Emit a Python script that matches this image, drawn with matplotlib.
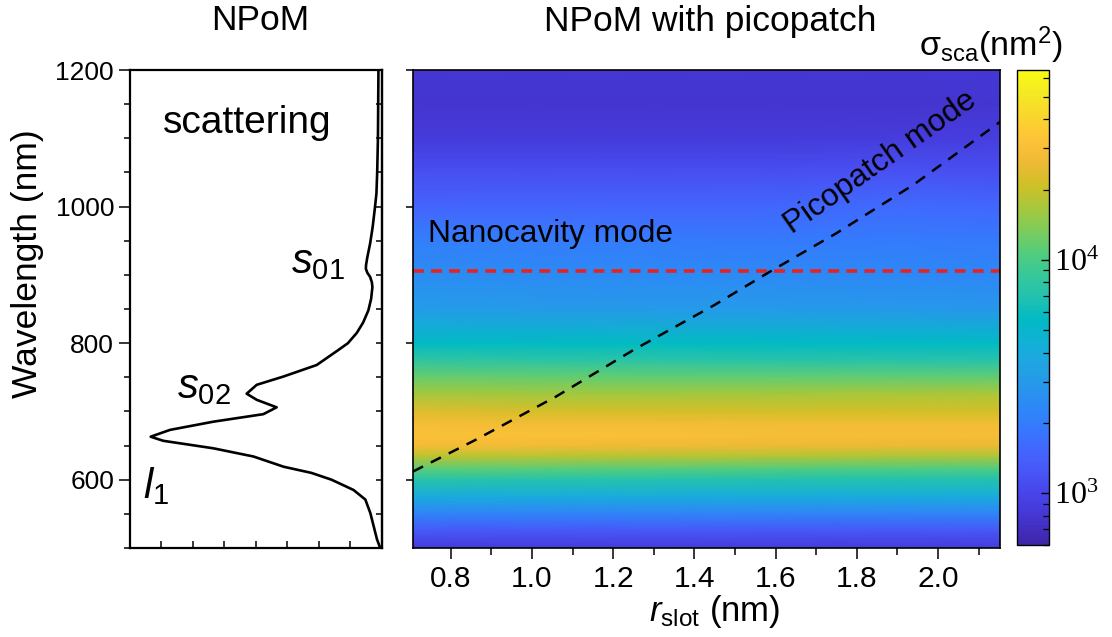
import numpy as np
import matplotlib
matplotlib.use('Agg')
import matplotlib.pyplot as plt
from matplotlib.colors import LogNorm, LinearSegmentedColormap
from matplotlib.ticker import MultipleLocator, FixedLocator, NullFormatter

plt.rcParams['font.family'] = ['Liberation Sans', 'DejaVu Sans']
plt.rcParams['mathtext.fontset'] = 'custom'
plt.rcParams['mathtext.rm'] = 'Liberation Sans'
plt.rcParams['mathtext.it'] = 'Liberation Sans:italic'
plt.rcParams['mathtext.bf'] = 'Liberation Sans:bold'

# Spectre de diffusion du NPoM seul (u.a.)
spec_wl = [1200, 1100, 1050, 1019, 995, 970, 946, 926, 915, 909, 903, 897, 889, 882,
           865, 848, 830, 815, 800, 790, 768, 751, 739, 726, 717, 706, 696,
           685, 673, 663, 657, 646, 634, 619, 610, 600, 585, 571, 551,
           532, 513, 500]
spec_sca = [0.014, 0.016, 0.019, 0.022, 0.029, 0.037, 0.047, 0.058, 0.063, 0.064, 0.058, 0.047, 0.040, 0.038,
            0.043, 0.054, 0.075, 0.100, 0.135, 0.173, 0.259, 0.392, 0.497, 0.537, 0.497, 0.418, 0.471,
            0.669, 0.841, 0.918, 0.868, 0.669, 0.510, 0.390, 0.280, 0.200, 0.113, 0.066, 0.046,
            0.033, 0.020, 0.007]

# Carte log10(sigma_sca) en fonction de r_slot et de la longueur d'onde
r_slot = [0.707, 1.0, 1.3, 1.6, 1.9, 2.153]
map_wl = [500, 525, 550, 575, 600, 615, 635, 650, 665, 680, 700, 725, 750,
          775, 800, 850, 900, 950, 1000, 1050, 1100, 1150, 1200]
log_sca_r071 = [2.93, 3.11, 3.34, 3.60, 3.86, 4.04, 4.28, 4.45, 4.49, 4.47, 4.37, 4.22, 4.08,
                3.90, 3.74, 3.50, 3.40, 3.32, 3.17, 3.05, 2.93, 2.89, 2.91]
log_sca_r100 = [2.93, 3.10, 3.34, 3.60, 3.85, 4.03, 4.27, 4.44, 4.48, 4.46, 4.35, 4.21, 4.07,
                3.89, 3.74, 3.49, 3.39, 3.31, 3.18, 3.05, 2.93, 2.89, 2.91]
log_sca_r130 = [2.93, 3.10, 3.34, 3.60, 3.85, 4.02, 4.26, 4.43, 4.48, 4.46, 4.34, 4.21, 4.06,
                3.88, 3.75, 3.48, 3.38, 3.30, 3.18, 3.05, 2.93, 2.89, 2.91]
log_sca_r160 = [2.93, 3.09, 3.34, 3.60, 3.84, 4.01, 4.25, 4.42, 4.47, 4.45, 4.33, 4.22, 4.06,
                3.87, 3.74, 3.48, 3.38, 3.29, 3.19, 3.05, 2.93, 2.89, 2.91]
log_sca_r190 = [2.93, 3.09, 3.34, 3.60, 3.84, 4.00, 4.24, 4.41, 4.47, 4.45, 4.33, 4.23, 4.06,
                3.86, 3.74, 3.47, 3.37, 3.30, 3.21, 3.07, 2.94, 2.89, 2.91]
log_sca_r215 = [2.93, 3.09, 3.34, 3.60, 3.84, 4.00, 4.24, 4.41, 4.47, 4.45, 4.33, 4.24, 4.06,
                3.86, 3.74, 3.46, 3.36, 3.29, 3.19, 3.05, 2.96, 2.90, 2.91]

# Modes
nanocavity_wl = 906
pico_r = [0.707, 0.86, 1.06, 1.25, 1.45, 1.59, 1.75, 1.94, 2.153]
pico_wl = [612, 658, 722, 790, 856, 906, 961, 1032, 1124]

# Palette type "parula"
parula_rgb = [
    (0.2422, 0.1504, 0.6603), (0.2647, 0.1978, 0.7952), (0.2783, 0.2559, 0.8991),
    (0.2810, 0.3228, 0.9579), (0.2699, 0.3892, 0.9906), (0.2206, 0.4603, 0.9973),
    (0.1786, 0.5289, 0.9682), (0.1540, 0.5902, 0.9218), (0.1248, 0.6459, 0.8883),
    (0.0689, 0.6948, 0.8394), (0.0067, 0.7312, 0.7660), (0.1408, 0.7584, 0.6842),
    (0.2161, 0.7843, 0.5923), (0.3406, 0.8008, 0.4789), (0.5044, 0.7993, 0.3480),
    (0.6720, 0.7793, 0.2227), (0.8203, 0.7498, 0.1535), (0.9393, 0.7288, 0.2100),
    (0.9970, 0.7659, 0.2199), (0.9786, 0.8386, 0.1766), (0.9597, 0.9135, 0.1423),
    (0.9769, 0.9839, 0.0805)]
parula = LinearSegmentedColormap.from_list('parula', parula_rgb)

W, H = 1112, 637
fig = plt.figure(figsize=(W / 100, H / 100), dpi=100)
ax1 = fig.add_axes([0.1169, 0.1397, 0.2266, 0.7504])
ax2 = fig.add_axes([0.3714, 0.1397, 0.5279, 0.7504])
cax = fig.add_axes([0.9146, 0.1444, 0.0288, 0.7457])

# --- panneau gauche : spectre ---
ax1.plot(spec_sca, spec_wl, color='k', lw=1.9)
ax1.set_xlim(1, 0)
ax1.set_ylim(500, 1200)
ax1.yaxis.set_major_locator(MultipleLocator(200))
ax1.yaxis.set_minor_locator(MultipleLocator(50))
ax1.xaxis.set_major_locator(FixedLocator(np.arange(0.125, 1, 0.125)))
ax1.xaxis.set_major_formatter(NullFormatter())
ax1.tick_params(axis='y', which='major', direction='out', length=8, width=1.1, labelsize=19)
ax1.tick_params(axis='y', which='minor', direction='out', length=4, width=1.1)
ax1.tick_params(axis='x', which='major', direction='in', length=5, width=1.1)
sec = ax1.secondary_yaxis('right')
sec.yaxis.set_major_locator(MultipleLocator(50))
sec.tick_params(direction='in', length=4, width=1.1, labelright=False)
for s in ax1.spines.values():
    s.set_linewidth(1.6)
sec.spines['right'].set_linewidth(1.6)

yt = ax1.get_yaxis_transform()
ax1.text(0.465, 1123, 'scattering', transform=yt, ha='center', va='center', fontsize=28)
ax1.text(0.64, 919, r'$s_{01}$', transform=yt, ha='left', va='center', fontsize=30)
ax1.text(0.185, 736, r'$s_{02}$', transform=yt, ha='left', va='center', fontsize=30)
ax1.text(0.05, 590, r'$l_{1}$', transform=yt, ha='left', va='center', fontsize=30)

# --- panneau droit : carte ---
Z = 10 ** np.array([log_sca_r071, log_sca_r100, log_sca_r130,
                    log_sca_r160, log_sca_r190, log_sca_r215]).T
mesh = ax2.pcolormesh(r_slot, map_wl, Z, shading='gouraud', cmap=parula,
                      norm=LogNorm(vmin=600, vmax=6.5e4))
ax2.axhline(nanocavity_wl, color='#e8231f', lw=2.6, dashes=(3, 2))
ax2.plot(pico_r, pico_wl, color='k', lw=1.8, dashes=(4.5, 3.5))
ax2.set_xlim(0.707, 2.153)
ax2.set_ylim(500, 1200)
ax2.xaxis.set_major_locator(MultipleLocator(0.2))
ax2.xaxis.set_minor_locator(MultipleLocator(0.1))
ax2.xaxis.set_major_formatter(lambda v, p: f'{v:.1f}')
ax2.yaxis.set_major_locator(FixedLocator([600, 800, 1000, 1200]))
ax2.yaxis.set_major_formatter(NullFormatter())
ax2.tick_params(axis='x', which='major', direction='out', length=8, width=1.1, labelsize=21.5, pad=4)
ax2.tick_params(axis='x', which='minor', direction='out', length=5, width=1.1)
ax2.tick_params(axis='y', direction='out', length=5, width=1.1)
for s in ax2.spines.values():
    s.set_linewidth(1.2)

ax2.text(0.744, 948, 'Nanocavity mode', ha='left', va='baseline', fontsize=22.8)
ax2.text(1.64, 960, 'Picopatch mode', ha='left', va='baseline', fontsize=22.8,
         rotation=35, rotation_mode='anchor')

# --- barre de couleur ---
cb = fig.colorbar(mesh, cax=cax)
cb.outline.set_linewidth(1.0)
cb.set_ticks([1e3, 1e4])
cax.set_yticklabels([r'$\mathregular{10^3}$', r'$\mathregular{10^4}$'],
                    fontfamily='Liberation Serif', fontsize=23)
cax.tick_params(which='major', direction='in', length=6, width=1.0, right=True, left=False)
cax.tick_params(which='minor', direction='in', length=4, width=0.9, right=True, left=False)

# --- textes ---
fig.text(260 / W, 1 - 21 / H, 'NPoM', ha='center', va='center', fontsize=25.5)
fig.text(710 / W, 1 - 21 / H, 'NPoM with picopatch', ha='center', va='center', fontsize=25.5)
fig.text(991 / W, 1 - 45 / H, r'$\mathregular{σ_{sca}(nm^2)}$', ha='center', va='center', fontsize=24.5)
fig.text(28 / W, 1 - 264 / H, 'Wavelength (nm)', rotation=90, ha='center', va='center', fontsize=25.5)
fig.text(715 / W, 1 - 612 / H, r'$r_{\mathregular{slot}}$ (nm)', ha='center', va='center', fontsize=25)

fig.savefig('out.png', dpi=100)
